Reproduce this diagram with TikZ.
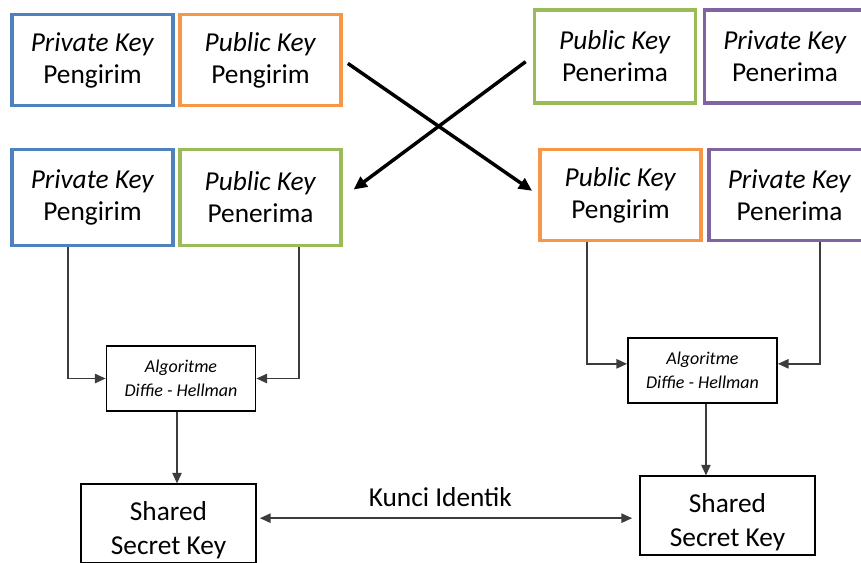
\documentclass[tikz,border=0pt]{standalone}
\usepackage{fontspec}
\setmainfont{Carlito}
\usetikzlibrary{arrows.meta}

\definecolor{keyblue}{RGB}{79,129,189}
\definecolor{keyorange}{RGB}{247,150,70}
\definecolor{keygreen}{RGB}{155,187,89}
\definecolor{keypurple}{RGB}{128,100,162}
\definecolor{connline}{RGB}{60,60,60}

\tikzset{every picture/.style={line width=0.75pt}}
\tikzset{
  keybox/.style={draw=#1, line width=2.6pt, fill=white, minimum width=121pt, minimum height=68pt,
    inner sep=0pt, align=center, font=\fontsize{20.5}{24}\selectfont},
  algbox/.style={draw=black, line width=1.1pt, minimum width=112pt, minimum height=49pt,
    inner sep=0pt, align=center, font=\fontsize{13.5}{18}\selectfont\itshape},
  sharedbox/.style={draw=black, line width=1.1pt, minimum width=131pt, minimum height=59pt,
    inner sep=0pt, text height=50pt, text depth=4pt, align=center, font=\fontsize{20.5}{25}\selectfont},
  connector/.style={draw=connline, line width=1.1pt, -{Triangle[length=8pt,width=7pt]}},
  swaparrow/.style={line width=2.6pt, -{Triangle[length=10pt,width=9pt]}}
}

\begin{document}
\begin{tikzpicture}[x=0.75pt,y=0.75pt,yscale=-1,xscale=1]
\useasboundingbox (0,0) rectangle (861,562);
\clip (0,0) rectangle (861,562);

%Key boxes, first row
\node[keybox=keyblue] (privA) at (92.5,60) {\textit{Private Key}\\Pengirim};
\node[keybox=keyorange] (pubA) at (260.5,60) {\textit{Public Key}\\Pengirim};
\node[keybox=keygreen, minimum height=70pt] (pubB) at (615,56.5) {\textit{Public Key}\\Penerima};
\node[keybox=keypurple, minimum height=70pt] (privB) at (785,56.5) {\textit{Private Key}\\Penerima};

%Key boxes, second row
\node[keybox=keyblue, minimum height=72pt] (privA2) at (92.5,197.5) {\textit{Private Key}\\Pengirim};
\node[keybox=keygreen, minimum height=72pt] (pubB2) at (260.5,197.5) {\textit{Public Key}\\Penerima};
\node[keybox=keyorange] (pubA2) at (620.5,195) {\textit{Public Key}\\Pengirim};
\node[keybox=keypurple] (privB2) at (789.5,195) {\textit{Private Key}\\Penerima};

%Algorithm boxes
\node[algbox] (algA) at (181,378.5) {Algoritme\\Diffie - Hellman};
\node[algbox] (algB) at (702.5,370.5) {Algoritme\\Diffie - Hellman};

%Shared secret boxes
\node[sharedbox] (sharedA) at (168.5,523.5) {Shared\\Secret Key};
\node[sharedbox] (sharedB) at (727.5,515.5) {Shared\\Secret Key};

%Crossing arrows
\draw[swaparrow, shorten <=4.5pt, shorten >=5.5pt] (pubA.east) -- (pubA2.west);
\draw[swaparrow, shorten <=6.5pt, shorten >=10pt] (pubB.west) -- (pubB2.east);

%Inputs of the algorithm
\draw[connector] ([xshift=-18.4pt]privA2.south) |- (algA.west);
\draw[connector] ([xshift=28.9pt]pubB2.south) |- (algA.east);
\draw[connector] ([xshift=-25pt]pubA2.south) |- ([yshift=-5pt]algB.west);
\draw[connector] ([xshift=23pt]privB2.south) |- ([yshift=-5pt]algB.east);

%Outputs
\draw[connector] ([xshift=-3pt]algA.south) -- ([xshift=-3pt]algA.south |- sharedA.north);
\draw[connector] ([xshift=2.6pt]algB.south) -- ([xshift=2.6pt]algB.south |- sharedB.north);

%Identical key
\draw[connector, {Triangle[length=8pt,width=7pt]}-{Triangle[length=8pt,width=7pt]}, shorten <=2.5pt, shorten >=5.5pt]
  ([yshift=2pt]sharedB.west -| sharedA.east) -- ([yshift=2pt]sharedB.west)
  node[pos=0.48, above=5pt, font=\fontsize{20.5}{24}\selectfont, text=black] (kunci) {Kunci Identik};

\end{tikzpicture}
\end{document}
